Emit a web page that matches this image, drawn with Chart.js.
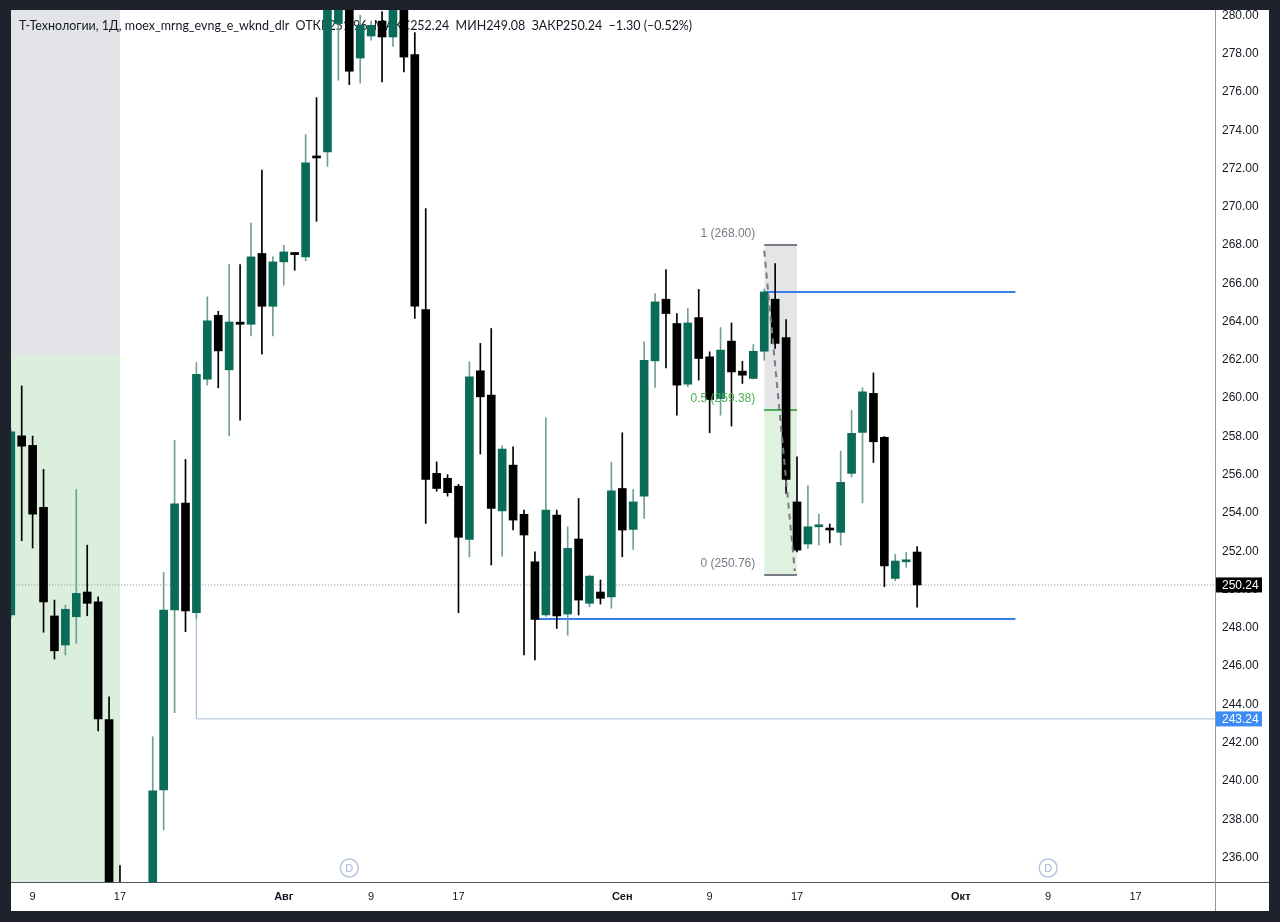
<!DOCTYPE html>
<html>
<head>
<meta charset="utf-8">
<script src="https://cdn.jsdelivr.net/npm/chart.js@4.4.1/dist/chart.umd.min.js"></script>
<style>
  html, body { margin: 0; padding: 0; background: #1e222d; }
  #wrap { position: absolute; left: 11px; top: 10px; width: 1258px; height: 901px; background: #fff; }
</style>
</head>
<body>
<div id="wrap"><canvas id="chart"></canvas></div>
<script>
// daily candles, bar index 0 = 9 Jul, first candle is 7 Jul
const firstBar = -2;
const open  = [248.67,258.03,257.53,254.29,248.62,247.10,248.58,249.87,249.36,243.20,232.60,231.20,232.00,233.20,239.53,248.93,254.52,248.79,260.99,264.33,261.48,263.97,263.86,267.56,264.80,267.12,267.61,267.38,272.65,272.86,279.57,281.20,277.77,278.92,279.70,278.87,280.90,277.95,264.63,256.07,255.81,255.40,252.62,261.43,260.16,254.11,256.50,253.93,251.45,248.67,253.89,248.72,252.64,249.28,249.87,249.62,255.28,253.14,254.88,261.95,265.17,263.90,260.73,264.21,262.16,259.98,262.98,261.41,261.03,262.45,265.17,263.17,254.58,252.38,253.28,253.21,252.99,256.07,258.21,260.25,257.95,250.58,251.45,251.96];
const high  = [258.40,260.64,258.02,256.28,249.45,249.19,255.23,252.32,249.62,244.40,235.58,233.40,233.90,242.31,250.90,257.79,256.80,261.86,265.29,264.54,266.98,266.98,269.15,271.91,267.38,267.99,267.61,273.77,275.70,281.20,282.00,281.80,280.00,279.70,280.20,281.00,281.30,279.10,269.91,256.67,256.00,255.50,261.90,262.86,263.64,257.51,257.46,254.15,251.97,258.97,254.15,253.28,254.76,250.75,250.50,256.64,258.19,255.23,262.94,265.47,266.72,264.42,264.68,265.68,262.42,263.69,263.93,261.93,262.80,265.70,267.03,264.11,256.93,255.42,253.94,253.42,257.23,259.37,260.54,261.32,258.00,251.84,251.94,252.24];
const low   = [248.50,252.55,252.17,247.77,246.37,246.58,247.19,248.63,242.61,231.80,230.10,229.60,230.50,232.80,237.44,243.57,247.80,248.50,260.68,260.54,258.03,258.85,263.25,262.30,263.25,265.90,266.68,267.17,269.24,272.11,276.61,276.38,276.46,278.70,276.52,278.38,277.04,264.16,253.46,255.14,254.88,248.79,251.71,257.08,251.28,251.75,253.11,246.58,246.32,248.60,247.97,247.62,248.67,249.10,249.24,249.02,251.71,252.10,253.72,260.56,261.58,259.11,260.59,260.94,258.19,259.11,258.54,260.77,261.00,261.98,262.60,255.02,251.97,252.15,252.32,252.44,252.32,255.89,254.53,256.64,250.15,250.46,251.16,249.08];
const close = [258.24,257.49,253.94,249.36,246.80,248.97,249.80,249.28,243.24,232.60,231.20,232.00,233.20,239.48,248.93,254.48,248.88,261.25,264.04,262.47,263.98,263.86,267.38,264.80,267.12,267.64,267.50,272.29,272.55,280.60,281.40,277.08,279.48,279.48,278.87,280.70,277.82,264.80,255.75,255.28,255.06,252.73,261.11,260.07,254.24,257.34,253.63,252.85,248.44,254.15,248.62,252.15,249.45,250.70,249.54,255.16,253.11,254.58,261.98,265.03,264.42,260.68,263.93,262.07,259.93,262.51,261.37,261.20,262.45,265.55,262.86,255.75,252.06,253.28,253.37,253.11,255.60,258.16,260.33,257.72,251.24,251.49,251.54,250.24];

const tickDays   = [0, 8, 23, 31, 39, 54, 62, 70, 85, 93, 101];
const tickLabels = ['9', '17', 'Авг', '9', '17', 'Сен', '9', '17', 'Окт', '9', '17'];
const monthLabels = ['Авг', 'Сен', 'Окт'];

const title = 'Т-Технологии, 1Д, moex_mrng_evng_e_wknd_dlr  ОТКР251.96  МАКС252.24  МИН249.08  ЗАКР250.24  −1.30 (−0.52%)';
const lastPrice = 250.24;
const levelPrice = 243.24;
const levelStart = 15;
const zoneSplit = 262.25;
const zoneEnd = 8;
const fibLevels = [268.00, 259.38, 250.76];
const fibNames  = ['1', '0.5', '0'];
const fibFrom = 67, fibTo = 70;
const upperLine = 265.55, lowerLine = 248.46;
const upperFrom = 67, lowerFrom = 46, linesTo = 90;
const dividendDays = [29, 93];

const xMin = -1.98, xMax = 108.28;
const yMin = 234.72, yMax = 280.28;

const GREEN = '#0a6b59', GREEN_WICK = '#6f9f96', BLACK = '#000000';
const FONT = "'Liberation Sans', Arial, sans-serif";
const TITLE_FONT = "Lato, 'Open Sans', sans-serif";

const bars = open.map((o, k) => k + firstBar);
const isUp = open.map((o, k) => close[k] >= o);

function seg(points, color, width, extra) {
    return Object.assign({
        type: 'line',
        data: points.map(p => ({ x: p[0], y: p[1] })),
        borderColor: color,
        borderWidth: width,
        pointRadius: 0,
        fill: false,
        tension: 0,
        order: 5,
        clip: 0
    }, extra || {});
}

const datasets = [
    // bodies
    {
        type: 'bar',
        data: open.map((o, k) => ({ x: bars[k], y: [o, close[k]] })),
        backgroundColor: isUp.map(u => u ? GREEN : BLACK),
        barThickness: 8,
        minBarLength: 2,
        grouped: false,
        order: 1,
        clip: 0
    },
    // wicks
    {
        type: 'bar',
        data: open.map((o, k) => ({ x: bars[k], y: [low[k], high[k]] })),
        backgroundColor: isUp.map(u => u ? GREEN_WICK : BLACK),
        barThickness: 1,
        grouped: false,
        order: 2,
        clip: 0
    },
    // left zones (title is painted right after these)
    seg([[xMin - 2, zoneSplit], [zoneEnd, zoneSplit]], 'rgba(0,0,0,0)', 0, { fill: 'end', backgroundColor: '#e3e4e7', order: 20 }),
    seg([[xMin - 2, zoneSplit], [zoneEnd, zoneSplit]], 'rgba(0,0,0,0)', 0, { fill: 'start', backgroundColor: '#dcefdc', order: 21 }),
    // fib box fills
    seg([[fibFrom, fibLevels[0]], [fibTo, fibLevels[0]]], '#787b86', 2, { fill: { value: fibLevels[1] }, backgroundColor: 'rgba(120,123,134,0.2)', order: 9 }),
    seg([[fibFrom, fibLevels[2]], [fibTo, fibLevels[2]]], '#787b86', 2, { fill: { value: fibLevels[1] }, backgroundColor: 'rgba(76,175,80,0.18)', order: 9 }),
    seg([[fibFrom, fibLevels[1]], [fibTo, fibLevels[1]]], '#4caf50', 2, { order: 8 }),
    seg([[fibFrom, fibLevels[0] - 0.3], [fibTo - 0.2, fibLevels[2] + 0.2]], '#787b86', 2, { borderDash: [6, 5], order: 0 }),
    // horizontal levels
    seg([[upperFrom, upperLine], [linesTo, upperLine]], '#3a7ee6', 2),
    seg([[lowerFrom, lowerLine], [linesTo, lowerLine]], '#3a7ee6', 2),
    seg([[levelStart, low[levelStart - firstBar] + 0.3], [levelStart, levelPrice], [xMax + 5, levelPrice]], '#a9bfd8', 1),
    seg([[xMin - 2, lastPrice], [xMax + 5, lastPrice]], '#8a8d96', 1, { borderDash: [1, 2], order: 6 })
];

const drawings = {
    id: 'drawings',
    afterDatasetDraw(chart, args) {
        if (args.index !== 2) return;
        const ctx = chart.ctx;
        ctx.save();
        ctx.font = '13px ' + TITLE_FONT;
        const size = 13 * 673 / ctx.measureText(title).width;
        ctx.font = size.toFixed(2) + 'px ' + TITLE_FONT;
        ctx.fillStyle = '#131722';
        ctx.textBaseline = 'middle';
        ctx.textAlign = 'left';
        ctx.fillText(title, 8, 16);
        ctx.restore();
    },
    afterDatasetsDraw(chart) {
        const ctx = chart.ctx;
        const xs = chart.scales.x, ys = chart.scales.y;
        ctx.save();
        ctx.font = '12px ' + FONT;
        ctx.textAlign = 'right';
        ctx.textBaseline = 'middle';
        fibLevels.forEach((lv, n) => {
            ctx.fillStyle = n === 1 ? '#4caf50' : '#787b86';
            ctx.fillText(fibNames[n] + ' (' + lv.toFixed(2) + ')', xs.getPixelForValue(fibFrom) - 9, ys.getPixelForValue(lv) - 11);
        });
        // dividend markers
        dividendDays.forEach(d => {
            const cx = xs.getPixelForValue(d), cy = chart.chartArea.bottom - 14;
            ctx.beginPath();
            ctx.arc(cx, cy, 9, 0, Math.PI * 2);
            ctx.fillStyle = '#ffffff';
            ctx.fill();
            ctx.lineWidth = 1.5;
            ctx.strokeStyle = '#b7c5de';
            ctx.stroke();
            ctx.fillStyle = '#a3b3cf';
            ctx.font = '11px ' + FONT;
            ctx.textAlign = 'center';
            ctx.fillText('D', cx, cy + 0.5);
        });
        ctx.restore();
    },
    afterDraw(chart) {
        const ctx = chart.ctx;
        const area = chart.chartArea, ys = chart.scales.y;
        ctx.save();
        // axis frame lines
        ctx.strokeStyle = '#50535e';
        ctx.lineWidth = 1;
        ctx.beginPath();
        ctx.moveTo(0, area.bottom + 0.5);
        ctx.lineTo(chart.width, area.bottom + 0.5);
        ctx.stroke();
        ctx.strokeStyle = '#9598a1';
        ctx.beginPath();
        ctx.moveTo(area.right + 0.5, 0);
        ctx.lineTo(area.right + 0.5, chart.height);
        ctx.stroke();
        // price labels on the axis
        const tags = [[lastPrice, '#000000'], [levelPrice, '#3b8cf4']];
        ctx.font = '12px ' + FONT;
        ctx.textBaseline = 'middle';
        ctx.textAlign = 'left';
        tags.forEach(t => {
            const y = ys.getPixelForValue(t[0]);
            ctx.fillStyle = t[1];
            ctx.fillRect(area.right + 1, y - 7.5, 46, 15);
            ctx.fillStyle = '#ffffff';
            ctx.fillText(t[0].toFixed(2), area.right + 7, y + 0.5);
        });
        ctx.restore();
    }
};

const ctx = document.getElementById('chart').getContext('2d');
const chart = new Chart(ctx, {
    type: 'bar',
    data: { datasets: datasets },
    options: {
        responsive: true,
        maintainAspectRatio: false,
        animation: false,
        layout: { padding: 0 },
        plugins: { legend: { display: false }, tooltip: { enabled: false } },
        scales: {
            x: {
                type: 'linear',
                min: xMin,
                max: xMax,
                offset: false,
                grid: { display: false, drawTicks: false },
                border: { display: false },
                afterBuildTicks: s => { s.ticks = tickDays.map(v => ({ value: v })); },
                afterFit: s => { s.height = 29; s.paddingLeft = 0; s.paddingRight = 0; },
                ticks: {
                    autoSkip: false,
                    maxRotation: 0,
                    padding: 8,
                    color: '#131722',
                    font: c => ({ family: FONT, size: 11, weight: monthLabels.includes(tickLabels[c.index]) ? 'bold' : 'normal' }),
                    callback: v => tickLabels[tickDays.indexOf(v)]
                }
            },
            y: {
                position: 'right',
                min: yMin,
                max: yMax,
                grid: { display: false, drawTicks: false },
                border: { display: false },
                afterFit: s => { s.width = 54; s.paddingTop = 0; s.paddingBottom = 0; },
                ticks: {
                    stepSize: 2,
                    includeBounds: false,
                    padding: 7,
                    color: '#131722',
                    font: { family: FONT, size: 12 },
                    callback: v => v.toFixed(2)
                }
            }
        }
    },
    plugins: [drawings]
});
</script>
</body>
</html>
